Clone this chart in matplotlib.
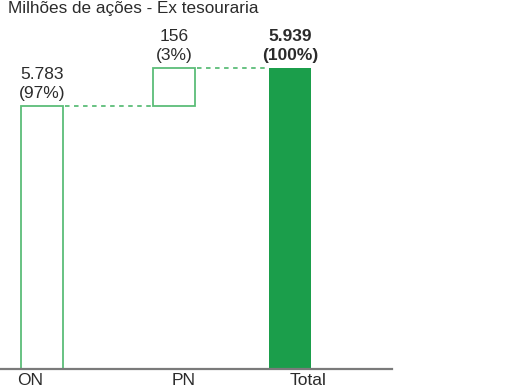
import matplotlib
matplotlib.use("Agg")
import matplotlib.pyplot as plt

# data
categories = ["ON", "PN", "Total"]
values = [5783, 156, 5939]
value_labels = ["5.783", "156", "5.939"]
pct_labels = ["(97%)", "(3%)", "(100%)"]
title = "Milhões de ações - Ex tesouraria"

plt.rcParams["font.family"] = ["Liberation Sans", "DejaVu Sans"]

fill_green = "#1b9e4b"
line_green = "#5cbd78"
text_col = "#2b2b2b"

W, H = 528, 391
fig = plt.figure(figsize=(W / 100, H / 100), dpi=100)
ax = fig.add_axes([0, (H - 368.5) / H, 392 / W, 368.5 / H])

y_lo, y_hi = 4705, 6218
ax.set_xlim(0, 392)
ax.set_ylim(y_lo, y_hi)

bar_x = [42.5, 174.5, 290.5]
tick_x = [30, 184, 308]
bw = 42

# ON: from base, PN: floating on top of ON, Total: from base
on_top = values[0]
pn_top = values[0] + values[1]
ax.bar(bar_x[0], on_top - y_lo, bottom=y_lo, width=bw, facecolor="white",
       edgecolor=line_green, linewidth=1.3)
ax.bar(bar_x[1], values[1], bottom=on_top, width=bw, facecolor="white",
       edgecolor=line_green, linewidth=1.3)
ax.bar(bar_x[2], values[2] - y_lo, bottom=y_lo, width=bw, facecolor=fill_green,
       edgecolor=fill_green, linewidth=0)

# connectors
ax.plot([bar_x[0] + bw / 2 + 2, bar_x[1] - bw / 2 - 1], [on_top, on_top],
        color=line_green, lw=1.3, ls=(0, (2.5, 2.5)))
ax.plot([bar_x[1] + bw / 2 + 2, bar_x[2] - bw / 2 - 1], [pn_top, pn_top],
        color=line_green, lw=1.3, ls=(0, (2.5, 2.5)))

tops = [on_top, pn_top, values[2]]
for i in range(3):
    weight = "bold" if i == 2 else "normal"
    ax.annotate(value_labels[i] + "\n" + pct_labels[i], (bar_x[i], tops[i]),
                xytext=(0, 3.5), textcoords="offset points", ha="center",
                va="bottom", fontsize=12.5, color=text_col, weight=weight,
                linespacing=1.32, annotation_clip=False)

for s in ["top", "right", "left"]:
    ax.spines[s].set_visible(False)
ax.spines["bottom"].set_color("#7a7a7a")
ax.spines["bottom"].set_linewidth(1.6)
ax.set_yticks([])
ax.set_xticks(tick_x)
ax.set_xticklabels(categories, fontsize=12.5, color=text_col)
ax.tick_params(axis="x", length=0, pad=3)
ax.patch.set_alpha(0)

fig.text(8 / W, 1 - 1 / H, title, ha="left", va="top", fontsize=12.3,
         color=text_col)

fig.savefig("out.png", dpi=100)
